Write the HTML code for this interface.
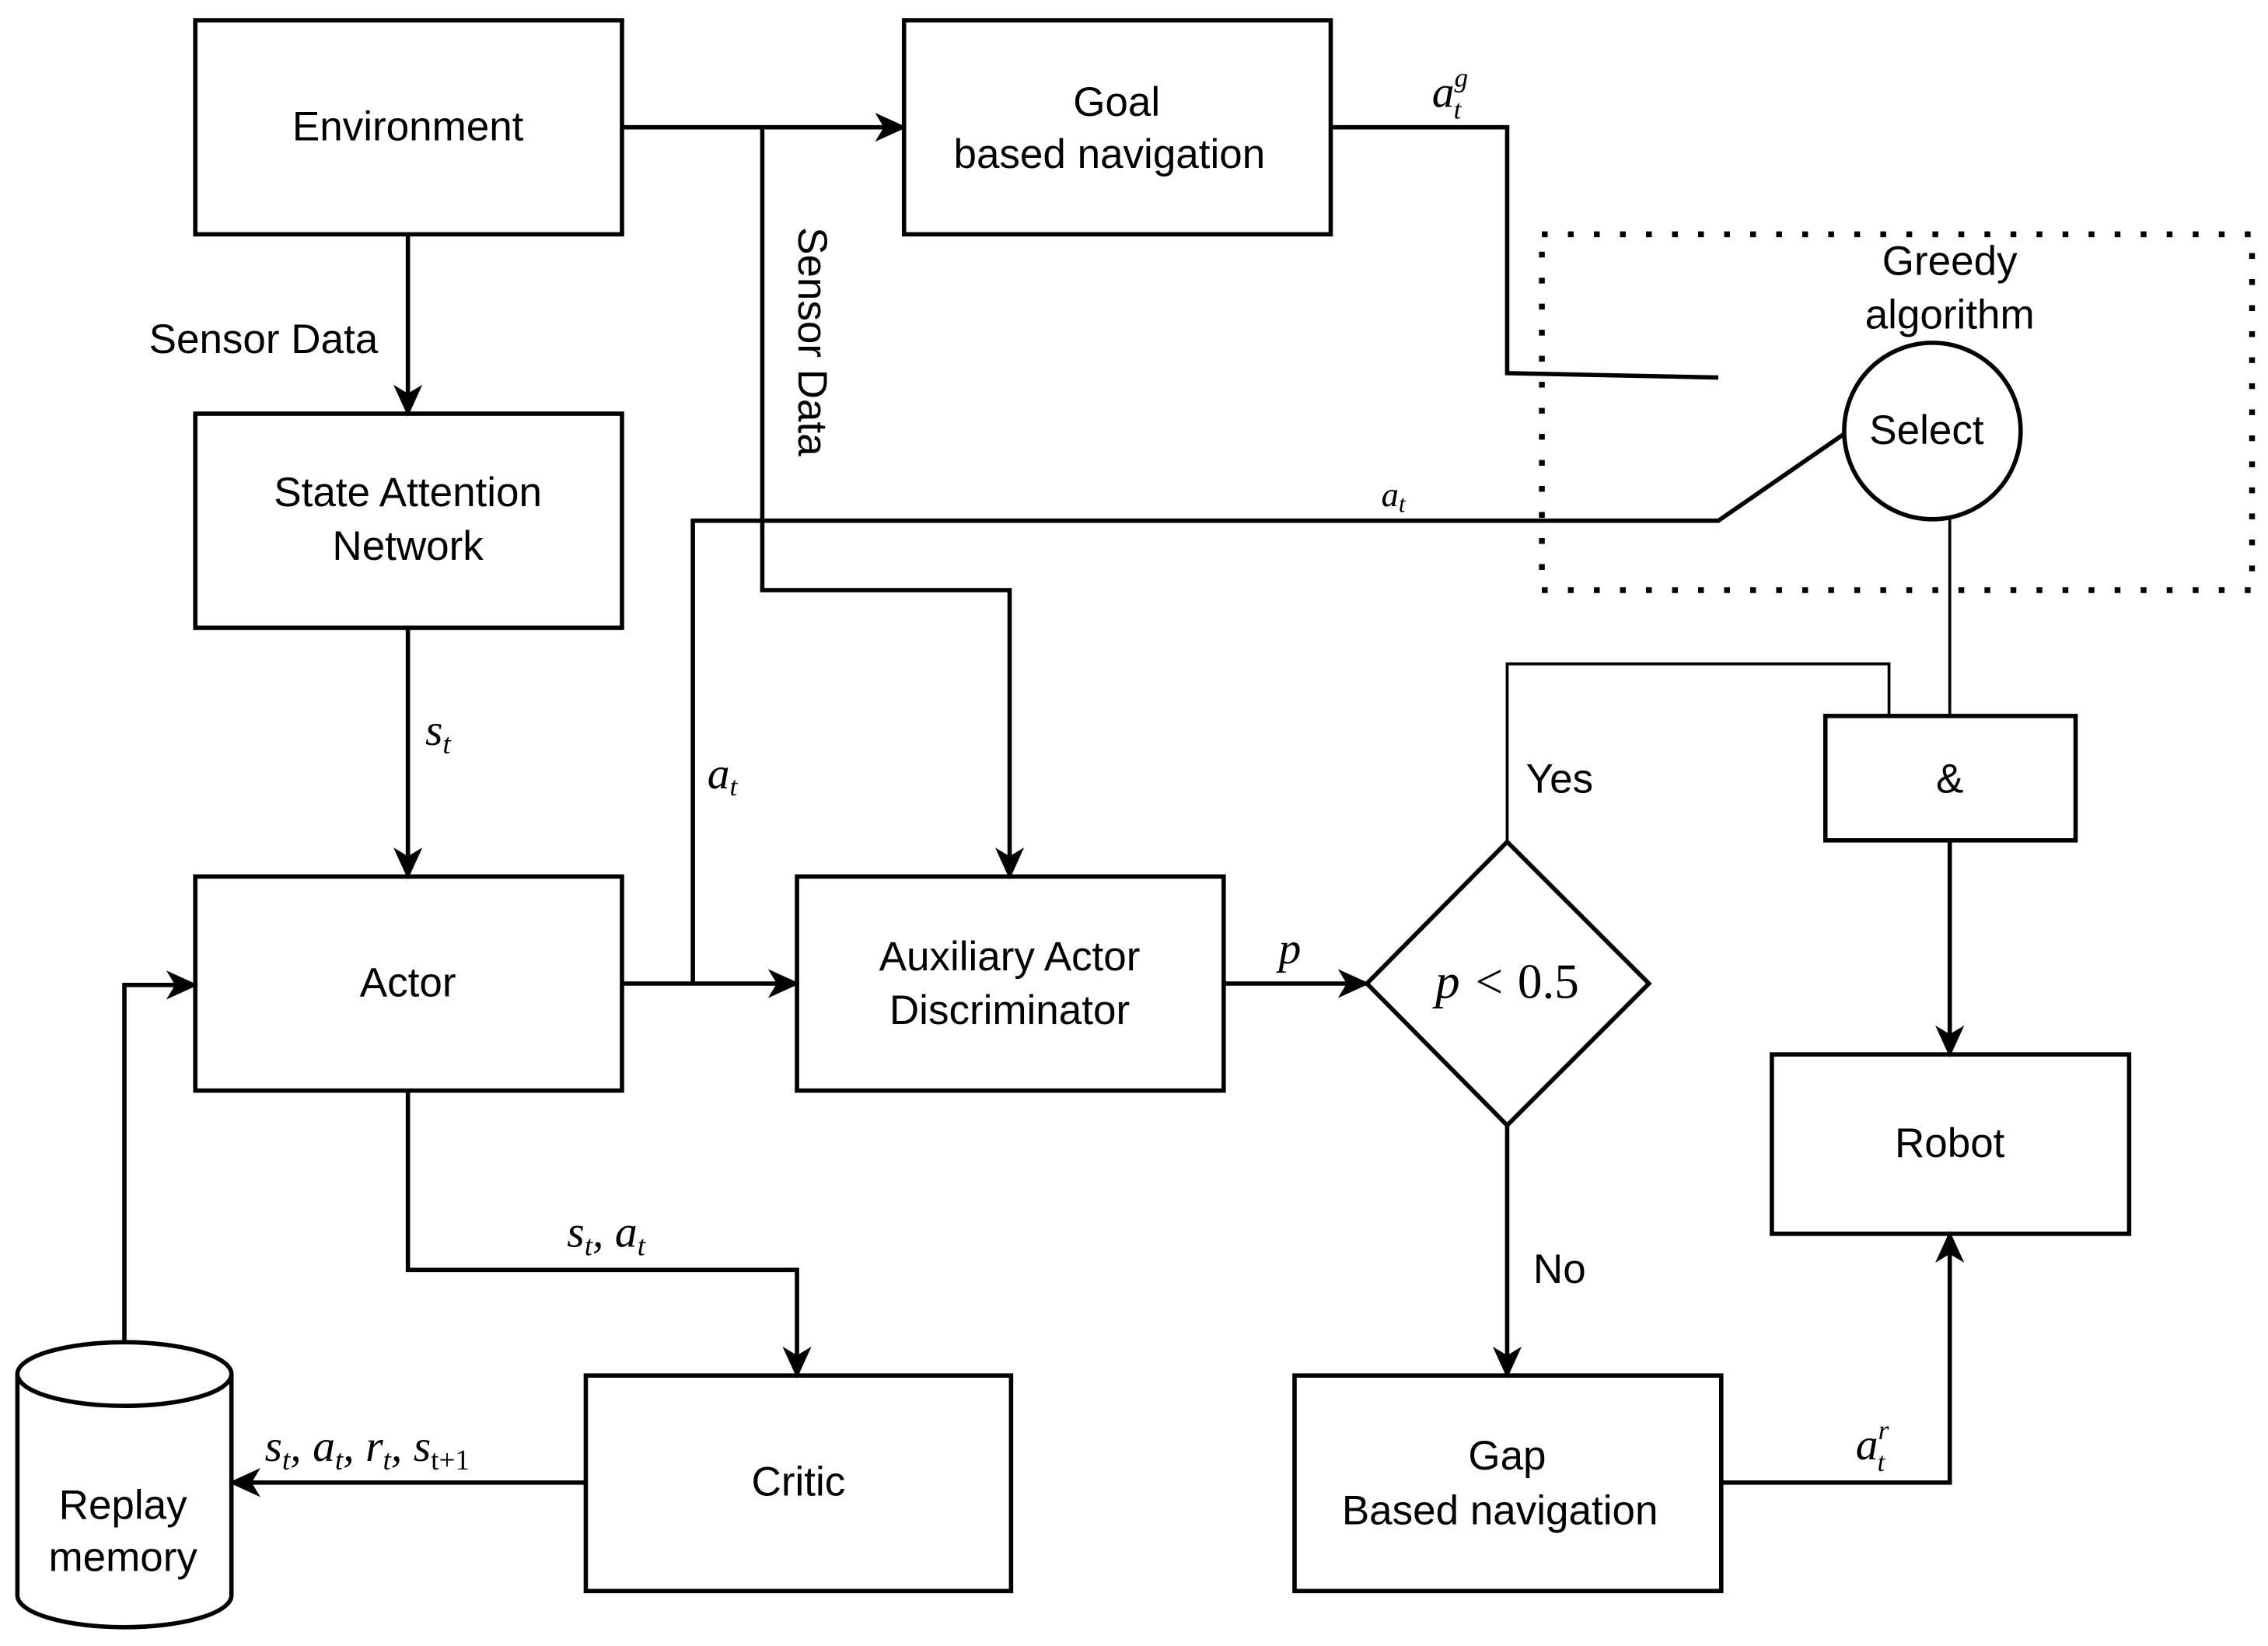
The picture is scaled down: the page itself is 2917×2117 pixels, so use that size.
<!DOCTYPE html>
<html><head><meta charset="utf-8"><style>
html,body{margin:0;padding:0;background:#fff;}
svg{display:block;}
text{font-family:"Liberation Sans",sans-serif;font-size:28.5px;fill:#000;}
.m{font-family:"Liberation Serif",serif;font-style:italic;font-size:31px;}
</style></head><body>
<svg width="2917" height="2117" viewBox="0 0 1568 1138" xmlns="http://www.w3.org/2000/svg">
<defs>
<marker id="b" markerWidth="22" markerHeight="22" refX="20" refY="11" orient="auto" markerUnits="userSpaceOnUse" viewBox="0 0 22 22"><path d="M0,1 L22,11 L0,21 L6,11 z" fill="#000"/></marker></defs>
<g fill="none" stroke="#000" stroke-width="3">
<rect x="135" y="14" width="295" height="148"/>
<rect x="625" y="14" width="295" height="148"/>
<rect x="135" y="286" width="295" height="148"/>
<rect x="135" y="606" width="295" height="148"/>
<rect x="551" y="606" width="295" height="148"/>
<rect x="405" y="951" width="294" height="149"/>
<rect x="895" y="951" width="295" height="149"/>
<rect x="1225" y="729" width="247" height="124"/>
<rect x="1262" y="495" width="173" height="86"/>
<polygon points="1042,582 1140,680 1042,778 945,680"/>
<ellipse cx="1336" cy="298" rx="61" ry="61"/>
<rect x="1066" y="162" width="491" height="246" stroke-width="4" stroke-dasharray="4,14"/>
<path d="M12,950 L12,1103 A74,22 0 0 0 160,1103 L160,950"/>
<ellipse cx="86" cy="950" rx="74" ry="22"/>
</g>
<g fill="none" stroke="#000" stroke-width="3">
<path d="M430,88 L625,88" marker-end="url(#b)"/>
<path d="M527,88 L527,408 L698,408 L698,606" marker-end="url(#b)"/>
<path d="M282,162 L282,286" marker-end="url(#b)"/>
<path d="M282,434 L282,606" marker-end="url(#b)"/>
<path d="M430,680 L551,680" marker-end="url(#b)"/>
<path d="M479,680 L479,360 L1188,360 L1275,300"/>
<path d="M920,88 L1042,88 L1042,258 L1188,261"/>
<path d="M1348,359 L1348,495" stroke-width="2"/>
<path d="M1042,582 L1042,459 L1306,459 L1306,495" stroke-width="2"/>
<path d="M1348,581 L1348,729" marker-end="url(#b)"/>
<path d="M846,680 L945,680" marker-end="url(#b)"/>
<path d="M1042,778 L1042,951" marker-end="url(#b)"/>
<path d="M1190,1025 L1348,1025 L1348,853" marker-end="url(#b)"/>
<path d="M282,754 L282,878 L551,878 L551,951" marker-end="url(#b)"/>
<path d="M405,1025 L160,1025" marker-end="url(#b)"/>
<path d="M86,928 L86,681 L135,681" marker-end="url(#b)"/>
</g>
<g text-anchor="middle">
<text x="282" y="97">Environment</text>
<text x="772" y="80">Goal</text>
<text x="767" y="116">based navigation</text>
<text x="282" y="350">State Attention</text>
<text x="282" y="387">Network</text>
<text x="282" y="689">Actor</text>
<text x="698" y="671">Auxiliary Actor</text>
<text x="698" y="708">Discriminator</text>
<text x="552" y="1034">Critic</text>
<text x="1042" y="1016">Gap</text>
<text x="1037" y="1054">Based navigation</text>
<text x="1348" y="800">Robot</text>
<text x="1348" y="548">&amp;</text>
<text x="1332" y="307">Select</text>
<text x="1348" y="190">Greedy</text>
<text x="1348" y="227">algorithm</text>
<text x="85" y="1050">Replay</text>
<text x="85" y="1086">memory</text>
<text x="1042" y="690" class="m" style="font-size:34px">p &lt; <tspan font-style="normal">0.5</tspan></text>
</g>
<text x="103" y="244">Sensor Data</text>
<text x="1055" y="548">Yes</text>
<text x="1060" y="887">No</text>
<text transform="translate(552,157) rotate(90)">Sensor Data</text>
<text class="m" x="294" y="515">s<tspan font-size="20" dy="6">t</tspan></text>
<text class="m" x="489" y="545">a<tspan font-size="19" dy="5">t</tspan></text>
<text class="m" x="955" y="350" style="font-size:24px">a<tspan font-size="17" dy="4">t</tspan></text>
<text class="m" x="884" y="666">p</text>
<text class="m" x="990" y="74">a<tspan font-size="19" dy="-14">g</tspan><tspan font-size="19" dx="-10" dy="22">t</tspan></text>
<text class="m" x="1283" y="1009">a<tspan font-size="19" dy="-14">r</tspan><tspan font-size="19" dx="-8" dy="22">t</tspan></text>
<text class="m" x="392" y="862">s<tspan font-size="20" dy="6">t</tspan><tspan dy="-6">, a</tspan><tspan font-size="20" dy="6">t</tspan></text>
<text class="m" x="183" y="1010">s<tspan font-size="20" dy="6">t</tspan><tspan dy="-6">, a</tspan><tspan font-size="20" dy="6">t</tspan><tspan dy="-6">, r</tspan><tspan font-size="20" dy="6">t</tspan><tspan dy="-6">, s</tspan><tspan font-size="20" dy="6" font-style="normal">t+1</tspan></text>
</svg>
</body></html>
